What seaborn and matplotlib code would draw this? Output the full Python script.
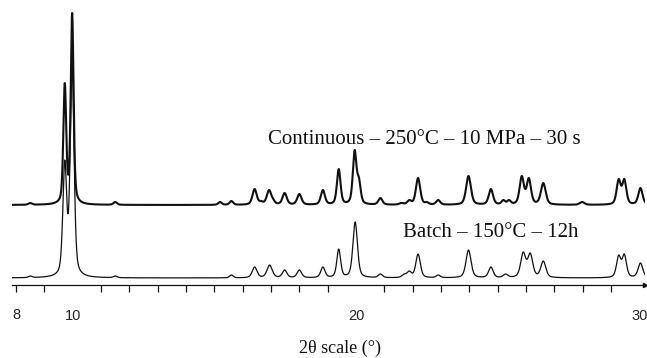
import numpy as np
import pandas as pd
import matplotlib
matplotlib.use("Agg")
import matplotlib.pyplot as plt
from matplotlib.ticker import FixedLocator, FuncFormatter
import seaborn as sns

# peak positions (deg 2theta), heights above baseline (px in reference), FWHM (deg)
cont_pos = [8.5, 9.72, 9.98, 11.5, 15.2, 15.6, 16.42, 16.65, 16.93, 17.08, 17.48, 18.0, 18.83,
            19.39, 19.95, 20.1, 20.86, 21.6, 21.88, 22.19, 22.5, 22.9, 23.97, 24.76, 25.2,
            25.4, 25.85, 26.1, 26.61, 27.98, 29.27, 29.47, 30.04]
cont_height = [2, 122, 192, 3, 3, 4, 16, 4, 15, 6, 12, 11, 15,
               36, 55, 28, 7, 2, 5, 27, 3, 5, 29, 16, 5,
               5, 29, 27, 22, 3, 26, 26, 17]
cont_fwhm = [0.15, 0.12, 0.12, 0.15, 0.15, 0.15, 0.18, 0.15, 0.19, 0.15, 0.18, 0.18, 0.17,
             0.15, 0.15, 0.15, 0.17, 0.18, 0.17, 0.18, 0.15, 0.17, 0.2, 0.18, 0.15,
             0.15, 0.18, 0.18, 0.2, 0.2, 0.17, 0.17, 0.18]

batch_pos = [8.5, 9.72, 9.98, 11.5, 15.6, 16.42, 16.95, 17.48, 18.0, 18.83, 19.39, 19.97,
             20.86, 21.7, 21.88, 22.19, 22.9, 23.97, 24.76, 25.28, 25.9, 26.15, 26.61,
             29.27, 29.47, 30.04]
batch_height = [2, 118, 213, 2, 3, 11, 13, 8, 8, 11, 29, 56,
                4, 4, 7, 24, 3, 28, 11, 4, 26, 25, 17,
                23, 24, 15]
batch_fwhm = [0.15, 0.16, 0.16, 0.15, 0.15, 0.2, 0.22, 0.19, 0.19, 0.18, 0.16, 0.19,
              0.18, 0.19, 0.18, 0.19, 0.17, 0.21, 0.19, 0.19, 0.21, 0.21, 0.21,
              0.18, 0.18, 0.2]

cont_baseline = 80
batch_baseline = 7

cont_label = "Continuous \u2013 250\u00b0C \u2013 10 MPa \u2013 30 s"
batch_label = "Batch \u2013 150\u00b0C \u2013 12h"
x_label = "2\u03b8 scale (\u00b0)"
tick_vals = [10, 20, 30]


def pvoigt(x, c, w, eta=0.45):
    g = np.exp(-4 * np.log(2) * ((x - c) / w) ** 2)
    l = 1.0 / (1.0 + (2 * (x - c) / w) ** 2)
    return eta * l + (1 - eta) * g


def profile(x, pos, height, fwhm):
    pos = np.asarray(pos, float)
    height = np.asarray(height, float)
    fwhm = np.asarray(fwhm, float)
    # solve for amplitudes so that the summed curve hits the read heights at each peak
    m = np.array([[pvoigt(p, c, w) for c, w in zip(pos, fwhm)] for p in pos])
    amp = np.linalg.solve(m, height)
    amp = np.clip(amp, 0, None)
    y = np.zeros_like(x)
    for a, c, w in zip(amp, pos, fwhm):
        y += a * pvoigt(x, c, w)
    return y


xs = np.arange(7.86, 30.21, 0.005)
df = pd.concat([
    pd.DataFrame({"tt": xs, "I": cont_baseline + profile(xs, cont_pos, cont_height, cont_fwhm),
                  "sample": "cont"}),
    pd.DataFrame({"tt": xs, "I": batch_baseline + profile(xs, batch_pos, batch_height, batch_fwhm),
                  "sample": "batch"}),
])

sns.set_style("white")
plt.rcParams["font.family"] = ["Liberation Serif", "DejaVu Serif"]

fig = plt.figure(figsize=(6.47, 3.58), dpi=100)
ax = fig.add_axes([12 / 647, 73 / 358, 633 / 647, 285 / 358])

sns.lineplot(data=df[df["sample"] == "cont"], x="tt", y="I", color="#111111",
             lw=1.5, ax=ax, legend=False)
sns.lineplot(data=df[df["sample"] == "batch"], x="tt", y="I", color="#111111",
             lw=0.9, ax=ax, legend=False)

ax.set_xlim(7.857, 30.20)
ax.set_ylim(0, 285)
ax.set_yticks([])
ax.set_ylabel("")
for s in ["left", "right", "top"]:
    ax.spines[s].set_visible(False)
ax.spines["bottom"].set_linewidth(0.9)
ax.spines["bottom"].set_color("#111111")
ax.plot(1, 0, ">", color="#111111", markersize=3, transform=ax.transAxes, clip_on=False)

ax.xaxis.set_major_locator(FixedLocator(tick_vals))
ax.xaxis.set_minor_locator(FixedLocator([v for v in range(8, 31) if v not in tick_vals]))
ax.xaxis.set_minor_formatter(FuncFormatter(lambda v, p: "8" if abs(v - 8) < 0.01 else ""))
ax.tick_params(axis="x", which="major", direction="out", length=9.4, width=0.9,
               color="#111111", pad=8.0, labelsize=10.5)
ax.tick_params(axis="x", which="minor", direction="out", length=5.0, width=0.9,
               color="#111111", pad=11.5, labelsize=10.5, bottom=True)
for lab in ax.get_xticklabels(which="both"):
    lab.set_family(["Liberation Sans Narrow", "Liberation Sans"])

ax.set_xlabel("")
fig.text(340 / 647, 1 - 348 / 358, x_label, ha="center", va="center", fontsize=13,
         color="#111111")

ax.text(16.89, 140.7, cont_label, fontsize=15, va="baseline", ha="left", color="#111111")
ax.text(21.67, 48.3, batch_label, fontsize=15, va="baseline", ha="left", color="#111111")

fig.savefig("out.png", dpi=100)
